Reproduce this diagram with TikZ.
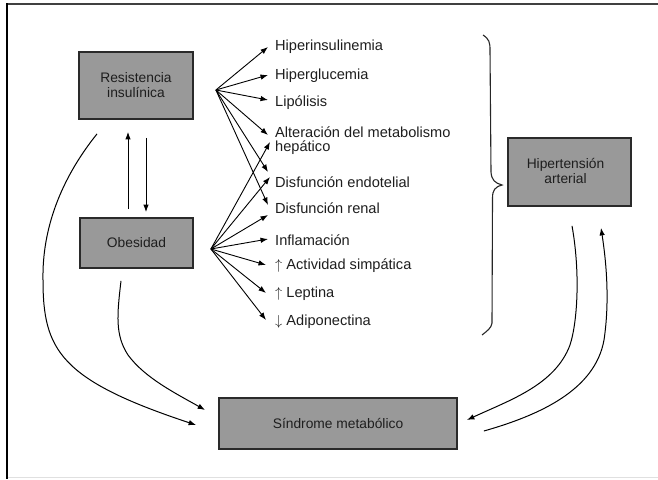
\documentclass[tikz,border=0pt]{standalone}
\usepackage{fontspec}
\setmainfont{Liberation Sans}
\usetikzlibrary{arrows.meta,calc}
\definecolor{boxfill}{HTML}{999999}
\definecolor{boxline}{HTML}{2A2A2A}
\definecolor{ink}{HTML}{1E1E1E}
\newcommand{\upmark}{$\uparrow$}
\newcommand{\downmark}{$\downarrow$}

\begin{document}
\begin{tikzpicture}[x=1pt,y=-1pt,
  box/.style={draw=boxline, line width=1.8pt, fill=boxfill, text=ink, align=center,
    inner sep=0pt, font=\fontsize{13.8}{15}\selectfont},
  item/.style={anchor=west, inner sep=0pt, text=ink, align=left,
    font=\fontsize{14.6}{14}\selectfont},
  arr/.style={-{Latex[length=7.5pt,width=5.5pt]}, line width=0.9pt, black},
  curve/.style={arr, line width=1pt},
  frame/.style={line width=2pt}
]
\useasboundingbox (0,0) rectangle (658,479);

% frame lines
\draw[frame, black!75] (6,4) -- (658,4);
\draw[frame, black] (7,3) -- (7,479);
\draw[line width=1pt, black!12] (8,477.5) -- (658,477.5);

% main boxes
\node[box, minimum width=114pt, minimum height=67pt] (res) at (136,85.5) {Resistencia\\insulínica};
\node[box, minimum width=113pt, minimum height=50pt] (obe) at (136.5,243) {Obesidad};
\node[box, minimum width=123pt, minimum height=68pt] (hta) at (569.5,172) {};
\node[text=ink, align=center, inner sep=0pt, font=\fontsize{13.8}{15}\selectfont]
  (htatext) at ($(hta.center)+(-4,-1)$) {Hipertensión\\arterial};
\node[box, minimum width=238pt, minimum height=51pt] (sin) at (338,423.5) {Síndrome metabólico};

% list of consequences
\node[item] (hin) at (275,47) {Hiperinsulinemia};
\node[item] (hgl) at (275,76) {Hiperglucemia};
\node[item] (lip) at (275,103) {Lipólisis};
\node[item] (alt) at (275,141) {Alteración del metabolismo\\hepático};
\node[item] (end) at (275,182) {Disfunción endotelial};
\node[item] (ren) at (275,208) {Disfunción renal};
\node[item] (inf) at (275,240) {Inflamación};
\node[item] (act) at (275,266) {\upmark\ Actividad simpática};
\node[item] (lep) at (275,294) {\upmark\ Leptina};
\node[item] (adi) at (275,322) {\downmark\ Adiponectina};

% fan origins
\coordinate (fanR) at ($(res.east)+(22,4.5)$);
\coordinate (fanO) at ($(obe.east)+(17,6)$);

% fan from Resistencia insulinica
\draw[arr] (fanR) -- ($(hin.west)+(-7,0)$);
\draw[arr] (fanR) -- ($(hgl.west)+(-7,-1)$);
\draw[arr] (fanR) -- ($(lip.west)+(-7,-3)$);
\draw[arr] (fanR) -- ($(alt.west)+(-7,-6)$);
\draw[arr] (fanR) -- ($(end.west)+(-7,-10)$);
\draw[arr] (fanR) -- ($(ren.west)+(-7,-3)$);

% fan from Obesidad
\draw[arr] (fanO) -- ($(alt.west)+(-5,1)$);
\draw[arr] (fanO) -- ($(end.west)+(-5,-5)$);
\draw[arr] (fanO) -- ($(ren.west)+(-7,7)$);
\draw[arr] (fanO) -- ($(inf.west)+(-7,-1)$);
\draw[arr] (fanO) -- ($(act.west)+(-9,-1)$);
\draw[arr] (fanO) -- ($(lep.west)+(-9,-1)$);
\draw[arr] (fanO) -- ($(adi.west)+(-9,-2)$);

% two-way link between Resistencia and Obesidad
\draw[arr] ($(obe.north)+(-8.5,-8)$) -- ($(res.south)+(-8,12)$);
\draw[arr] ($(res.south)+(10,18)$) -- ($(obe.north)+(9.5,-5)$);

% curved links into Sindrome metabolico
\draw[curve] ($(res.south)+(-39,14)$)
  .. controls (60,180) and (42,230) .. (43,280)
  .. controls (43,350) and (60,380) .. ($(sin.west)+(-22,1.5)$);
\draw[curve] ($(obe.south)+(-15.5,12)$)
  .. controls (117,315) and (115,335) .. (128,355)
  .. controls (145,378) and (175,393) .. ($(sin.west)+(-13,-13.5)$);
\draw[curve] ($(hta.south)+(2.5,19)$)
  .. controls (580,270) and (578,320) .. (570,345)
  .. controls (555,385) and (510,400) .. ($(sin.east)+(9,-3.5)$);
\draw[curve] ($(sin.east)+(26,7.5)$)
  .. controls (540,415) and (595,390) .. (604,340)
  .. controls (610,300) and (606,260) .. ($(hta.south)+(31.5,21)$);

% brace grouping the list
\draw[line width=1.1pt, black!85]
  (483,35) .. controls (489,39) and (490,42) .. (490,50)
  -- (491,172) .. controls (491.5,180) and (495,183) .. (502,185)
  .. controls (495,187) and (492.5,190) .. (492.5,198)
  -- (492,323) .. controls (491.5,328) and (487,331) .. (482,335);
\end{tikzpicture}
\end{document}
